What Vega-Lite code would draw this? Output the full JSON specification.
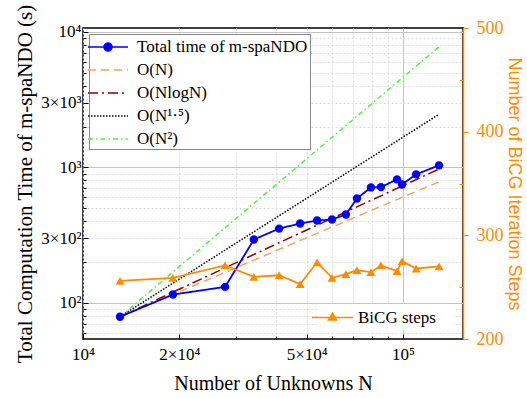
{
  "$schema": "https://vega.github.io/schema/vega-lite/v6.json",
  "width": 380,
  "height": 311,
  "autosize": {"type": "none"},
  "padding": {"left": 83, "top": 28, "right": 64, "bottom": 59},
  "config": {
    "font": "Liberation Serif",
    "view": {"stroke": "black", "strokeWidth": 1.5},
    "axis": {
      "labelFont": "Liberation Serif",
      "titleFont": "Liberation Serif",
      "labelFontSize": 17,
      "titleFontSize": 20,
      "titleFontWeight": "normal",
      "labelColor": "black",
      "titleColor": "black",
      "labelOverlap": false,
      "labelFlush": false
    },
    "legend": {
      "labelFont": "Liberation Serif",
      "labelFontSize": 17,
      "labelColor": "black"
    }
  },
  "datasets": {
    "main": [
      {"N": 13050, "time": 78.8, "steps": 256},
      {"N": 19100, "time": 115, "steps": 259},
      {"N": 27800, "time": 131, "steps": 271},
      {"N": 34200, "time": 293, "steps": 260},
      {"N": 41000, "time": 353, "steps": 261.5},
      {"N": 47700, "time": 385, "steps": 253},
      {"N": 53900, "time": 405, "steps": 274},
      {"N": 60000, "time": 412, "steps": 259},
      {"N": 66300, "time": 449, "steps": 262.5},
      {"N": 71800, "time": 589, "steps": 266.5},
      {"N": 79400, "time": 711, "steps": 264.5},
      {"N": 85300, "time": 715, "steps": 271},
      {"N": 95800, "time": 815, "steps": 265.5},
      {"N": 99300, "time": 748, "steps": 275},
      {"N": 109900, "time": 888, "steps": 268},
      {"N": 129600, "time": 1035, "steps": 270}
    ],
    "ref": [
      {"N": 13050, "time": 78.8, "series": "O(N)"},
      {"N": 129600, "time": 782.6, "series": "O(N)"},
      {"N": 13050, "time": 78.8, "series": "O(NlogN)"},
      {"N": 41000, "time": 277.5, "series": "O(NlogN)"},
      {"N": 129600, "time": 972, "series": "O(NlogN)"},
      {"N": 13050, "time": 78.8, "series": "O(N¹·⁵)"},
      {"N": 129600, "time": 2466, "series": "O(N¹·⁵)"},
      {"N": 13050, "time": 78.8, "series": "O(N²)"},
      {"N": 129600, "time": 7772, "series": "O(N²)"}
    ]
  },
  "encoding": {
    "x": {
      "field": "N",
      "type": "quantitative",
      "scale": {"type": "log", "domain": [10000, 154000], "nice": false},
      "axis": {
        "title": "Number of Unknowns N",
        "values": [10000, 20000, 30000, 40000, 50000, 60000, 70000, 80000, 90000, 100000],
        "labelExpr": "datum.value == 10000 ? '10⁴' : datum.value == 20000 ? '2×10⁴' : datum.value == 50000 ? '5×10⁴' : datum.value == 100000 ? '10⁵' : ''",
        "domain": false,
        "ticks": true,
        "tickColor": "black",
        "tickSize": {"condition": {"test": "indexof([10000,20000,50000,100000], datum.value) >= 0", "value": -5}, "value": -3},
        "labelPadding": 12,
        "titlePadding": 9,
        "grid": true,
        "gridColor": {"condition": {"test": "datum.value == 100000", "value": "#c4c4c4"}, "value": "#dddddd"},
        "gridDash": {"condition": {"test": "datum.value == 100000", "value": []}, "value": [2, 2]},
        "gridWidth": 1
      }
    }
  },
  "layer": [
    {
      "layer": [
        {
          "data": {"name": "ref"},
          "mark": {"type": "line", "strokeWidth": 1.5},
          "encoding": {
            "y": {
              "field": "time",
              "type": "quantitative",
              "scale": {"type": "log", "domain": [54, 10700], "nice": false},
              "axis": {
                "title": "Total Computation Time of m-spaNDO (s)",
                "titleFontSize": 21,
                "values": [60, 70, 80, 90, 100, 200, 300, 400, 500, 600, 700, 800, 900, 1000, 2000, 3000, 4000, 5000, 6000, 7000, 8000, 9000, 10000],
                "labelExpr": "datum.value == 100 ? '10²' : datum.value == 300 ? '3×10²' : datum.value == 1000 ? '10³' : datum.value == 3000 ? '3×10³' : datum.value == 10000 ? '10⁴' : ''",
                "domain": false,
                "tickColor": "black",
                "tickSize": {"condition": {"test": "indexof([100,300,1000,3000,10000], datum.value) >= 0", "value": -5}, "value": -3},
                "labelPadding": 7,
                "titlePadding": 5,
                "grid": true,
                "gridColor": {"condition": {"test": "indexof([100,1000,10000], datum.value) >= 0", "value": "#c4c4c4"}, "value": "#dddddd"},
                "gridDash": {"condition": {"test": "indexof([100,1000,10000], datum.value) >= 0", "value": []}, "value": [2, 2]}
              }
            },
            "color": {
              "field": "series",
              "type": "nominal",
              "scale": {
                "domain": ["Total time of m-spaNDO", "O(N)", "O(NlogN)", "O(N¹·⁵)", "O(N²)"],
                "range": ["#0000ff", "#f4a460", "#8b0000", "#000000", "#55ee44"]
              },
              "legend": {
                "title": null,
                "orient": "top-left",
                "offset": 6,
                "padding": 2,
                "fillColor": "white",
                "strokeColor": "#888888",
                "symbolType": "M-2,0L2,0",
                "symbolSize": 400,
                "symbolStrokeWidth": 1.5,
                "symbolOffset": 6,
                "labelOffset": 18,
                "rowPadding": 4,
                "labelLimit": 300,
                "encode": {
                  "symbols": {
                    "update": {
                      "shape": {"signal": "datum.value == 'Total time of m-spaNDO' ? 'M-2,0L2,0M-0.4,0A0.4,0.4,0,1,0,0.4,0A0.4,0.4,0,1,0,-0.4,0' : 'M-2,0L2,0'"},
                      "fill": {"signal": "datum.value == 'Total time of m-spaNDO' ? '#0000ff' : 'transparent'"}
                    }
                  }
                }
              }
            },
            "strokeDash": {
              "field": "series",
              "type": "nominal",
              "scale": {
                "domain": ["Total time of m-spaNDO", "O(N)", "O(NlogN)", "O(N¹·⁵)", "O(N²)"],
                "range": [[1, 0], [8, 5], [10, 4, 2, 4], [1.5, 1.5], [5, 3, 1.5, 3]]
              }
            }
          }
        },
        {
          "data": {"name": "main"},
          "mark": {"type": "line", "strokeWidth": 1.8},
          "encoding": {
            "y": {"field": "time", "type": "quantitative"},
            "color": {"datum": "Total time of m-spaNDO", "type": "nominal"},
            "strokeDash": {"datum": "Total time of m-spaNDO", "type": "nominal"}
          }
        },
        {
          "data": {"name": "main"},
          "mark": {"type": "point", "filled": true, "shape": "circle", "size": 70, "color": "#0000ff", "opacity": 1},
          "encoding": {
            "y": {"field": "time", "type": "quantitative"}
          }
        }
      ]
    },
    {
      "data": {"name": "main"},
      "layer": [
        {
          "mark": {"type": "line", "strokeWidth": 1.8},
          "encoding": {
            "y": {
              "field": "steps",
              "type": "quantitative",
              "scale": {"domain": [200, 500], "nice": false},
              "axis": {
                "orient": "right",
                "title": "Number of BiCG Iteration Steps",
                "titleFont": "Liberation Sans",
                "titleFontSize": 18,
                "titleColor": "#ff8c00",
                "labelColor": "#ff8c00",
                "labelFontSize": 18,
                "values": [200, 250, 300, 350, 400, 450, 500],
                "labelExpr": "datum.value % 100 == 0 ? datum.value : ''",
                "domainColor": "#ff8c00",
                "domainWidth": 1.5,
                "tickColor": "#ff8c00",
                "tickSize": {"condition": {"test": "datum.value % 100 == 0", "value": 5}, "value": -4},
                "labelPadding": 8,
                "titlePadding": 1,
                "grid": false
              }
            },
            "color": {
              "datum": "BiCG steps",
              "type": "nominal",
              "scale": {"range": ["#ff8c00"]},
              "legend": {
                "title": " ",
                "titleOrient": "right",
                "titlePadding": 14,
                "orient": "bottom-right",
                "offset": 9,
                "padding": 4,
                "fillColor": "white",
                "symbolType": "M-2.41,0L2.41,0M0,-0.5L0.47,0.3L-0.47,0.3Z",
                "symbolSize": 289,
                "symbolStrokeWidth": 1.5,
                "symbolFillColor": "#ff8c00",
                "symbolOffset": 0,
                "labelOffset": 16
              }
            }
          }
        },
        {
          "mark": {"type": "point", "filled": true, "shape": "triangle-up", "size": 80, "color": "#ff8c00", "opacity": 1},
          "encoding": {
            "y": {"field": "steps", "type": "quantitative"}
          }
        }
      ]
    }
  ],
  "resolve": {"scale": {"y": "independent", "color": "independent", "strokeDash": "independent"}}
}
